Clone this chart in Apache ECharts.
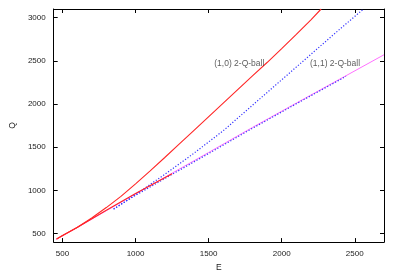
<!DOCTYPE html>
<html><head><meta charset="utf-8">
<script src="https://cdn.jsdelivr.net/npm/echarts@6/dist/echarts.min.js"></script>
<style>html,body{margin:0;padding:0;background:#fff}#c{width:396px;height:277px}</style>
</head><body><div id="c"></div>
<script>
// (E, Q) data
const red10Upper = [[460,435],[500,478],[600,570],[700,680],[800,800],[900,930],[1000,1075],[1100,1225],[1200,1380],[1300,1537],[1400,1695],[1600,2010],[1800,2325],[1900,2480],[2000,2640],[2100,2805],[2200,2975],[2270,3100]];
const red10Lower = [[460,435],[600,570],[800,768],[1000,962],[1250,1192]];
const blue11Upper = [[850,780],[1000,950],[1200,1185],[1400,1430],[1600,1690],[1800,1985],[2000,2280],[2200,2575],[2400,2870],[2560,3100]];
const blue11Lower = [[850,785],[1000,942],[1200,1136],[1500,1426],[1800,1718],[2100,2002],[2440,2320]];
const singleQ = [[455,430],[600,568],[800,763],[1000,958],[1200,1150],[1500,1438],[1800,1728],[2100,2010],[2400,2290],[2700,2570]];
const xTicks = [500,1000,1500,2000,2500];
const yTicks = [500,1000,1500,2000,2500,3000];
const labels = [{text:'(1,0) 2-Q-ball', x:1710, y:2465},{text:'(1,1) 2-Q-ball', x:2365, y:2465}];

const chart = echarts.init(document.getElementById('c'));
const font = 'Liberation Sans, Arial, sans-serif';
function axisCommon(ticks){
  return {
    axisLine:{show:true,onZero:false,lineStyle:{color:'#000',width:1}},
    axisTick:{show:true,inside:true,length:4,customValues:ticks,lineStyle:{color:'#000'}},
    axisLabel:{customValues:ticks,color:'#222',fontSize:8,fontFamily:font,formatter:v=>String(v)},
    splitLine:{show:false}
  };
}
const lineSeries = (data,color,type,w)=>({type:'line',data:data,showSymbol:false,symbol:'none',smooth:false,
  lineStyle:{color:color,width:w,type:type},animation:false,z:2});
chart.setOption({
  animation:false,
  grid:{left:52,right:12,top:9,bottom:25,show:false},
  xAxis:[Object.assign({type:'value',min:440,max:2700,name:'E',nameLocation:'middle',nameGap:18,
     nameTextStyle:{fontSize:8.5,color:'#222',fontFamily:font}},axisCommon(xTicks)),
    Object.assign({type:'value',min:440,max:2700,position:'top'},axisCommon(xTicks),{axisLabel:{show:false}})],
  yAxis:[Object.assign({type:'value',min:400,max:3100,name:'Q',nameLocation:'middle',nameGap:34,nameRotate:90,
     nameTextStyle:{fontSize:8.5,color:'#222',fontFamily:font}},axisCommon(yTicks)),
    Object.assign({type:'value',min:400,max:3100,position:'right'},axisCommon(yTicks),{axisLabel:{show:false}})],
  series:[
    lineSeries(singleQ,'#ff70ff','solid',1),
    lineSeries(blue11Lower,'#3333ff',[1.2,1.8],1.2),
    lineSeries(blue11Upper,'#3333ff',[1.2,1.8],1.2),
    lineSeries(red10Lower,'#ff2626','solid',1.1),
    lineSeries(red10Upper,'#ff2626','solid',1.1),
    {type:'scatter',data:labels.map(l=>({value:[l.x,l.y],name:l.text})),symbolSize:0,
     label:{show:true,formatter:p=>p.name,position:'inside',color:'#333',fontSize:8.5,fontFamily:font},z:5}
  ]
});
</script></body></html>
